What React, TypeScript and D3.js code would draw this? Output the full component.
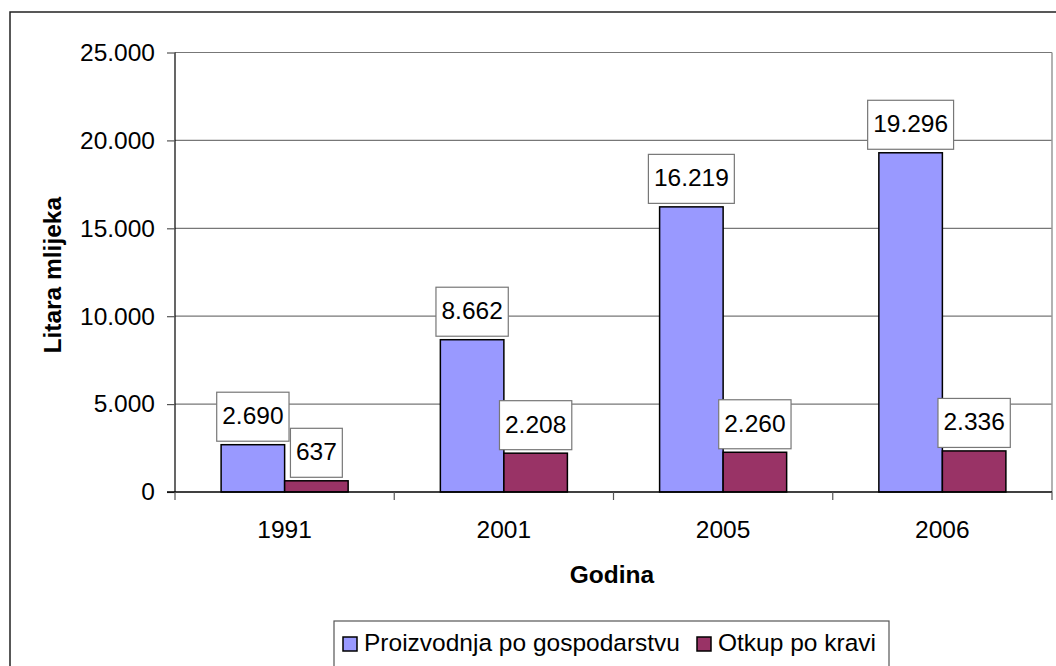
import React, { useEffect, useRef } from 'react';
import * as d3 from 'd3';

const years = ['1991', '2001', '2005', '2006'];
const seriesNames = ['Proizvodnja po gospodarstvu', 'Otkup po kravi'];
const production = [2690, 8662, 16219, 19296];
const purchase = [637, 2208, 2260, 2336];
const yTicks = [0, 5000, 10000, 15000, 20000, 25000];
const colors = ['#9999FF', '#993366'];

const FONT = '"Liberation Sans", Arial, sans-serif';
const FS = 24.5;

const App = () => {
  const ref = useRef<SVGSVGElement>(null);

  useEffect(() => {
    const width = 1056;
    const height = 666;
    const plot = { left: 175, right: 1052, top: 52.5, bottom: 492 };

    const svg = d3.select(ref.current);
    svg.selectAll('*').remove();
    svg.attr('width', width).attr('height', height);

    const fmt = d3.formatLocale({ decimal: ',', thousands: '.', grouping: [3], currency: ['', ''] }).format(',d');

    // outer chart border (runs past the right and bottom edges)
    svg.append('rect')
      .attr('x', 10).attr('y', 12)
      .attr('width', 1070).attr('height', 680)
      .attr('fill', 'white').attr('stroke', '#222').attr('stroke-width', 1.5);

    const x0 = d3.scaleBand().domain(years).range([plot.left, plot.right]).padding(0);
    const x1 = d3.scaleBand().domain(['0', '1']).range([0, x0.bandwidth()]).paddingInner(0).paddingOuter(0.726);
    const y = d3.scaleLinear().domain([0, 25000]).range([plot.bottom, plot.top]);

    // gridlines
    svg.append('g')
      .selectAll('line')
      .data(yTicks.slice(1))
      .enter().append('line')
      .attr('x1', plot.left).attr('x2', plot.right)
      .attr('y1', d => y(d)).attr('y2', d => y(d))
      .attr('stroke', '#777').attr('stroke-width', 1.2);

    // right plot border
    svg.append('line')
      .attr('x1', plot.right).attr('x2', plot.right)
      .attr('y1', plot.top).attr('y2', plot.bottom)
      .attr('stroke', '#999').attr('stroke-width', 1.5);

    // bars
    const data = [production, purchase];
    data.forEach((vals, s) => {
      svg.append('g')
        .selectAll('rect')
        .data(vals)
        .enter().append('rect')
        .attr('x', (_, i) => (x0(years[i]) as number) + (x1(String(s)) as number))
        .attr('y', d => y(d))
        .attr('width', x1.bandwidth())
        .attr('height', d => plot.bottom - y(d))
        .attr('fill', colors[s])
        .attr('stroke', '#000').attr('stroke-width', 1.5);
    });

    // y axis
    const yAxis = d3.axisLeft(y).tickValues(yTicks).tickSize(8).tickPadding(12).tickFormat(d => fmt(d as number));
    const gy = svg.append('g').attr('transform', `translate(${plot.left},0)`).call(yAxis);
    gy.select('.domain').attr('stroke', '#000').attr('stroke-width', 1.2).attr('d', `M0,${plot.top}V${plot.bottom}`);
    gy.selectAll('.tick line').attr('stroke', '#555').attr('stroke-width', 1.2);
    gy.selectAll('.tick text').attr('font-family', FONT).attr('font-size', FS).attr('fill', '#000');

    // x axis
    const gx = svg.append('g').attr('transform', `translate(0,${plot.bottom})`);
    gx.append('line')
      .attr('x1', plot.left - 8).attr('x2', plot.right)
      .attr('y1', 0).attr('y2', 0)
      .attr('stroke', '#000').attr('stroke-width', 1.5);
    const bounds = years.map(yr => x0(yr) as number).concat([plot.right]);
    gx.selectAll('line.tk')
      .data(bounds)
      .enter().append('line')
      .attr('class', 'tk')
      .attr('x1', d => d).attr('x2', d => d)
      .attr('y1', 0).attr('y2', 8)
      .attr('stroke', '#555').attr('stroke-width', 1.2);
    gx.selectAll('text')
      .data(years)
      .enter().append('text')
      .attr('x', d => (x0(d) as number) + x0.bandwidth() / 2)
      .attr('y', 46)
      .attr('text-anchor', 'middle')
      .attr('font-family', FONT).attr('font-size', FS)
      .text(d => d);

    // data labels
    data.forEach((vals, s) => {
      vals.forEach((v, i) => {
        const cx = (x0(years[i]) as number) + (x1(String(s)) as number) + x1.bandwidth() / 2;
        const bottom = y(v) - 3.5;
        const g = svg.append('g');
        const box = g.append('rect').attr('fill', 'white').attr('stroke', '#777').attr('stroke-width', 1.2);
        const t = g.append('text')
          .attr('x', cx).attr('y', bottom - 17)
          .attr('text-anchor', 'middle')
          .attr('font-family', FONT).attr('font-size', FS)
          .text(fmt(v));
        const w = (t.node() as SVGTextElement).getComputedTextLength() + 11;
        box.attr('x', cx - w / 2).attr('y', bottom - 49).attr('width', w).attr('height', 49);
      });
    });

    // axis titles
    svg.append('text')
      .attr('transform', `translate(61,${(plot.top + plot.bottom) / 2 + 3}) rotate(-90)`)
      .attr('text-anchor', 'middle')
      .attr('font-family', FONT).attr('font-size', FS).attr('font-weight', 'bold')
      .text('Litara mlijeka');
    svg.append('text')
      .attr('x', 612).attr('y', 583)
      .attr('text-anchor', 'middle')
      .attr('font-family', FONT).attr('font-size', FS).attr('font-weight', 'bold')
      .text('Godina');

    // legend
    const lg = svg.append('g');
    lg.append('rect')
      .attr('x', 334).attr('y', 621).attr('width', 555).attr('height', 60)
      .attr('fill', 'white').attr('stroke', '#555').attr('stroke-width', 1.2);
    const legendX = [343, 697];
    seriesNames.forEach((name, s) => {
      lg.append('rect')
        .attr('x', legendX[s]).attr('y', 637).attr('width', 14).attr('height', 14)
        .attr('fill', colors[s]).attr('stroke', '#000').attr('stroke-width', 1.5);
      lg.append('text')
        .attr('x', legendX[s] + 21).attr('y', 651)
        .attr('font-family', FONT).attr('font-size', FS)
        .text(name);
    });
  }, []);

  return (
    <div style={{ position: 'absolute', left: 0, top: 0 }}>
      <svg ref={ref}></svg>
    </div>
  );
};

export default App;
